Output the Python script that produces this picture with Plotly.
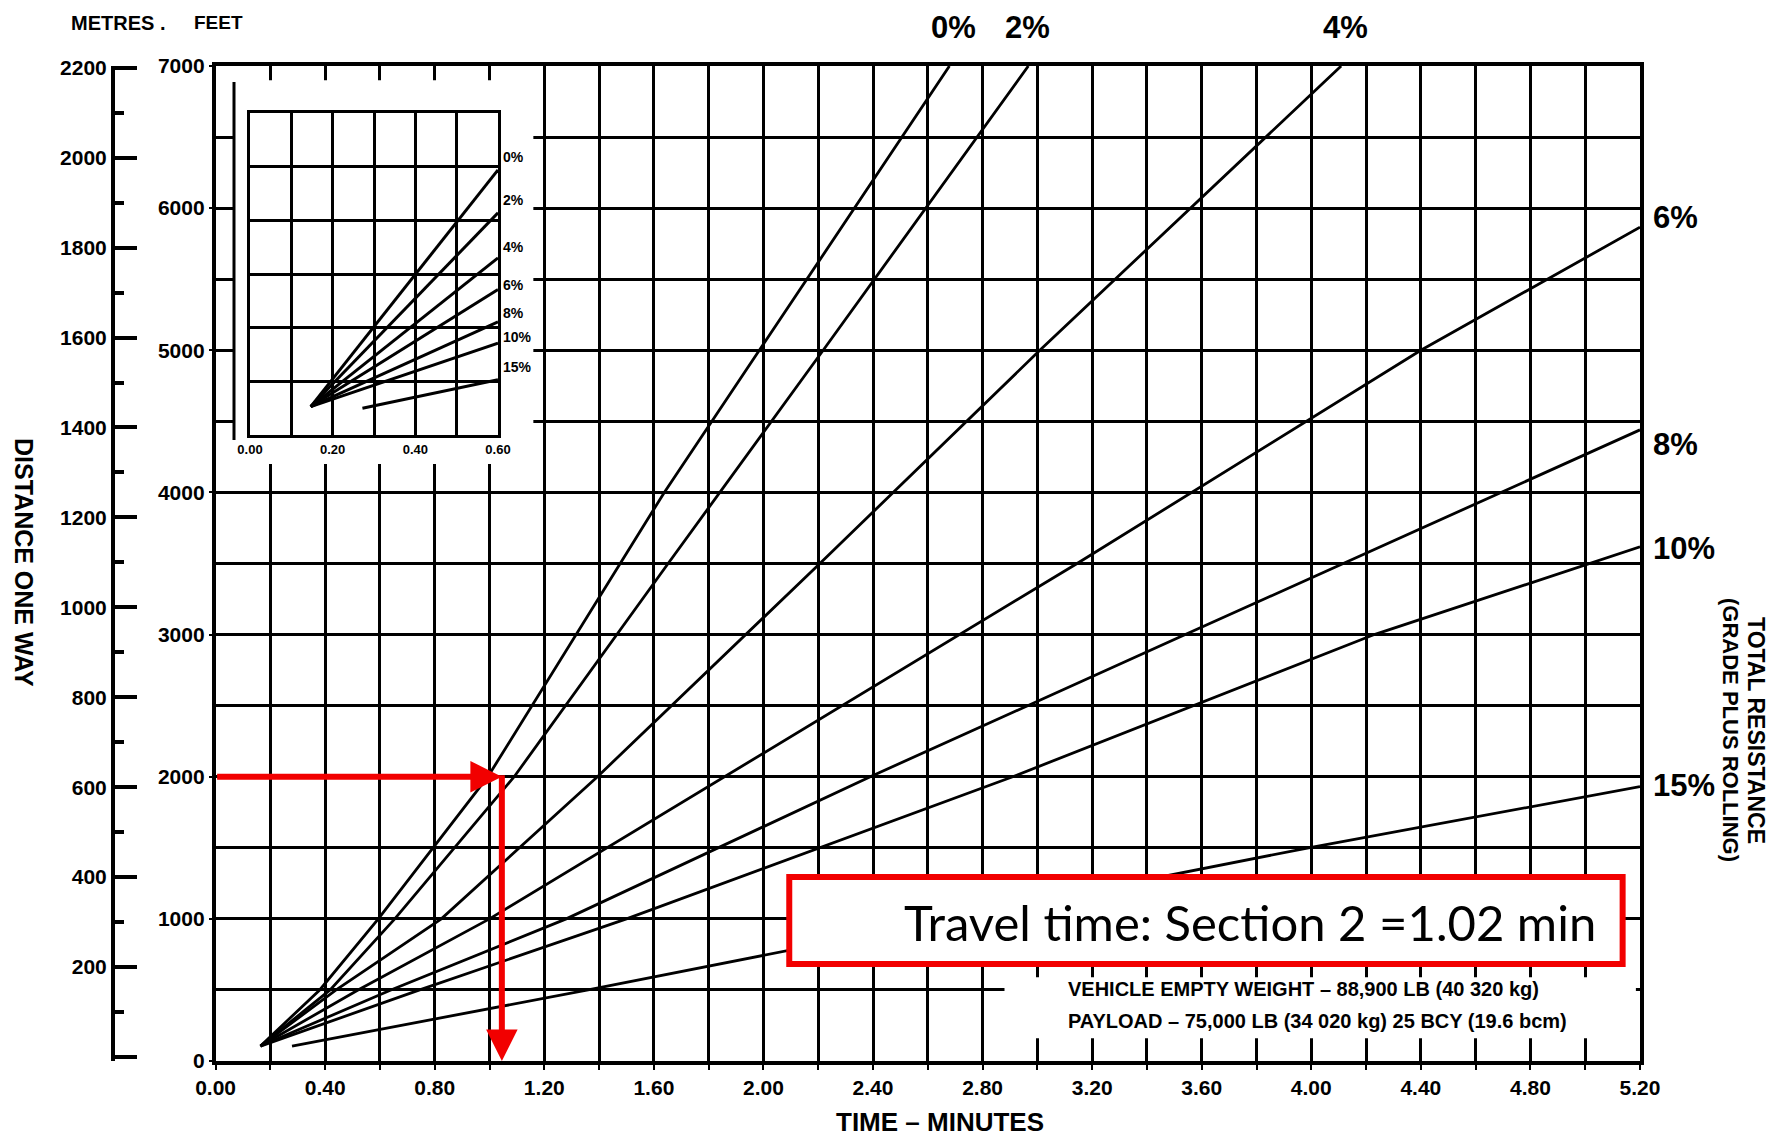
import plotly.graph_objects as go

# ---------------- data ----------------
grades = ["0%", "2%", "4%", "6%", "8%", "10%", "15%"]

t_0 = [0.164, 0.38, 0.594, 0.994, 1.638, 2.679]
d_0 = [105, 500, 1000, 2000, 4000, 7000]
t_2 = [0.164, 0.418, 0.654, 1.09, 1.652, 2.218, 2.967]
d_2 = [105, 500, 1000, 2000, 3500, 5000, 7000]
t_4 = [0.164, 0.44, 0.824, 1.394, 2.206, 3.009, 4.109]
d_4 = [105, 500, 1000, 2000, 3500, 5000, 7000]
t_6 = [0.164, 0.52, 1.0, 1.86, 3.145, 4.4, 5.2]
d_6 = [105, 500, 1000, 2000, 3500, 5000, 5866]
t_8 = [0.164, 0.64, 1.28, 2.39, 3.54, 4.69, 5.2]
d_8 = [105, 500, 1000, 2000, 3000, 4000, 4440]
t_10 = [0.164, 0.745, 1.5, 2.91, 4.23, 5.2]
d_10 = [105, 500, 1000, 2000, 3000, 3617]
t_15 = [0.279, 1.36, 3.99, 5.2]
d_15 = [105, 500, 1500, 1930]

series_t = [t_0, t_2, t_4, t_6, t_8, t_10, t_15]
series_d = [d_0, d_2, d_4, d_6, d_8, d_10, d_15]

# label positions of the grade names (top row and right column)
top_labels = ["0%", "2%", "4%"]
top_label_t = [2.693, 2.963, 4.125]
right_labels = ["6%", "8%", "10%", "15%"]
right_label_d = [5931, 4334, 3609, 1935]

# inset (short-distance detail), grid units
inset_start_t = [0.147, 0.147, 0.147, 0.147, 0.147, 0.147, 0.272]
inset_start_d = [0.53, 0.53, 0.53, 0.53, 0.53, 0.53, 0.50]
inset_end_t = [0.6, 0.6, 0.6, 0.6, 0.6, 0.6, 0.6]
inset_end_d = [4.94, 4.14, 3.30, 2.71, 2.11, 1.71, 1.03]
inset_label_d = [5.18, 4.38, 3.50, 2.80, 2.27, 1.83, 1.27]

x_ticks = [0.0, 0.4, 0.8, 1.2, 1.6, 2.0, 2.4, 2.8, 3.2, 3.6, 4.0, 4.4, 4.8, 5.2]
x_ticktext = ["0.00", "0.40", "0.80", "1.20", "1.60", "2.00", "2.40", "2.80",
              "3.20", "3.60", "4.00", "4.40", "4.80", "5.20"]
feet_ticks = [0, 1000, 2000, 3000, 4000, 5000, 6000, 7000]
metre_ticks = [0, 200, 400, 600, 800, 1000, 1200, 1400, 1600, 1800, 2000, 2200]
metre_minor = [100, 300, 500, 700, 900, 1100, 1300, 1500, 1700, 1900, 2100]

# example reading (red arrows)
example_distance_ft = 2000
example_time_min = 1.045
example_arrow_tip = 1.045
result_text = "Travel time: Section 2 =1.02 min"
note_lines = ["VEHICLE EMPTY WEIGHT – 88,900 LB (40 320 kg)",
              "PAYLOAD – 75,000 LB (34 020 kg) 25 BCY (19.6 bcm)"]

# ---------------- geometry / styling ----------------
OFF = 8                     # page body margin of the html page
PAGE_W, PAGE_H = 1779, 1137
W, H = PAGE_W - OFF, PAGE_H - OFF
PLOT_L, PLOT_R, PLOT_T, PLOT_B = 60, 1640, 66, 1061   # page pixels
ML, MT = PLOT_L - OFF, PLOT_T - OFF
MR, MB = W - (PLOT_R - OFF), H - (PLOT_B - OFF)
plot_w = W - ML - MR
plot_h = H - MT - MB


def px(xp):
    return (xp - OFF - ML) / plot_w


def py(yp):
    return (H - MB - (yp - OFF)) / plot_h


def t_at(xp):
    return (xp - 215.6) / 273.8


def d_at(yp):
    return (1061 - yp) / 0.14214


FONT = "Liberation Sans, Arial, sans-serif"
RED = "#f20000"
BLACK = "#000000"
GW = 2.6


def bfont(size):
    return dict(family=FONT, size=size, color=BLACK, weight="bold")


fig = go.Figure()

for name, t, d in zip(grades, series_t, series_d):
    fig.add_trace(go.Scatter(x=t, y=d, mode="lines", name=name,
                             line=dict(color=BLACK, width=2.8),
                             hoverinfo="skip", showlegend=False))

fig.add_trace(go.Scatter(x=[None], y=[None], yaxis="y2", showlegend=False,
                         hoverinfo="skip"))

for name, ts, ds, te, de in zip(grades, inset_start_t, inset_start_d,
                                inset_end_t, inset_end_d):
    fig.add_trace(go.Scatter(x=[ts, te], y=[ds, de], mode="lines",
                             xaxis="x2", yaxis="y3",
                             line=dict(color=BLACK, width=3),
                             hoverinfo="skip", showlegend=False))

common = dict(showline=True, linecolor=BLACK, mirror=True, zeroline=False,
              gridcolor=BLACK, automargin=False)

fig.update_layout(
    width=W, height=H,
    margin=dict(l=ML, r=MR, t=MT, b=MB, pad=0, autoexpand=False),
    paper_bgcolor="white", plot_bgcolor="white",
    showlegend=False,
    xaxis=dict(domain=[px(215.6), 1.0], range=[0, 5.2], tickvals=x_ticks,
               ticktext=x_ticktext, ticks="outside", ticklen=5, tickwidth=2,
               tickcolor=BLACK, showgrid=True, gridwidth=GW, linewidth=3.5,
               tickfont=bfont(21),
               minor=dict(dtick=0.2, tick0=0, showgrid=True, gridcolor=BLACK,
                          gridwidth=GW, ticks="outside", ticklen=5,
                          tickwidth=2, tickcolor=BLACK),
               **common),
    yaxis=dict(domain=[0, 1], range=[0, 7000], tickvals=feet_ticks,
               ticks="outside", ticklen=3, tickwidth=2, tickcolor=BLACK,
               showgrid=True, gridwidth=GW, linewidth=3.5, tickfont=bfont(21),
               minor=dict(dtick=500, tick0=0, showgrid=True, gridcolor=BLACK,
                          gridwidth=GW),
               **common),
    yaxis2=dict(overlaying="y", anchor="free", position=px(113), side="left",
                range=[-9, 2204], tickvals=metre_ticks,
                ticktext=[""] + [str(v) for v in metre_ticks[1:]],
                ticks="inside", ticklen=22, tickwidth=4, tickcolor=BLACK,
                showline=True, linewidth=4, linecolor=BLACK, automargin=False,
                showgrid=False, zeroline=False, tickfont=bfont(21),
                minor=dict(tickvals=metre_minor, ticks="inside", ticklen=9,
                           tickwidth=4, tickcolor=BLACK, showgrid=False)),
    xaxis2=dict(domain=[px(250), px(498)], anchor="y3", range=[0, 0.6],
                tickvals=[0, 0.2, 0.4, 0.6],
                ticktext=["0.00", "0.20", "0.40", "0.60"], ticks="",
                tickfont=bfont(13), showgrid=True, gridwidth=3, linewidth=3,
                minor=dict(dtick=0.1, tick0=0, showgrid=True,
                           gridcolor=BLACK, gridwidth=3),
                **common),
    yaxis3=dict(domain=[py(435), py(113)], anchor="x2", range=[0, 6], dtick=1,
                showticklabels=False, ticks="", showgrid=True, gridwidth=3,
                linewidth=3, **common),
)

shapes = []
# blank the main grid behind the inset
shapes.append(dict(type="rect", xref="x", yref="y", x0=0.068, x1=1.16,
                   y0=4200, y1=6900, fillcolor="white", line=dict(width=0),
                   layer="between"))
# blank grid under the vehicle notes
shapes.append(dict(type="rect", xref="x", yref="y", x0=2.88, x1=5.185,
                   y0=160, y1=590, fillcolor="white", line=dict(width=0),
                   layer="between"))
# inset outer axis line
shapes.append(dict(type="line", xref="paper", yref="paper",
                   x0=px(234), x1=px(234), y0=py(440), y1=py(82),
                   line=dict(color=BLACK, width=3)))
# result box
shapes.append(dict(type="rect", xref="x", yref="y", x0=t_at(789),
                   x1=t_at(1622), y0=d_at(964), y1=d_at(877),
                   fillcolor="white", line=dict(color=RED, width=6),
                   layer="above"))
fig.update_layout(shapes=shapes)

ann = []
ann.append(dict(x=example_arrow_tip, y=example_distance_ft, ax=0,
                ay=example_distance_ft, xref="x", yref="y", axref="x",
                ayref="y", showarrow=True, arrowhead=2, arrowsize=1.05,
                arrowwidth=6, arrowcolor=RED, text=""))
ann.append(dict(x=example_time_min, y=0, ax=example_time_min,
                ay=example_distance_ft + 20, xref="x", yref="y", axref="x",
                ayref="y", showarrow=True, arrowhead=2, arrowsize=1.05,
                arrowwidth=6, arrowcolor=RED, text=""))
ann.append(dict(x=t_at(1597), y=d_at(922), xref="x", yref="y",
                xanchor="right", yanchor="middle", showarrow=False,
                text=result_text,
                font=dict(family="Lato, Carlito, Open Sans, sans-serif",
                          size=49, color=BLACK)))
for line_txt, yp in zip(note_lines, [989, 1021]):
    ann.append(dict(x=t_at(1066), y=d_at(yp), xref="x", yref="y",
                    xanchor="left", yanchor="middle", showarrow=False,
                    text=line_txt, font=bfont(20)))
for lab, tx in zip(top_labels, top_label_t):
    ann.append(dict(x=tx, y=py(27), xref="x", yref="paper",
                    xanchor="center", yanchor="middle", showarrow=False,
                    text=lab, font=bfont(31)))
for lab, dy in zip(right_labels, right_label_d):
    ann.append(dict(x=5.2, y=dy, xref="x", yref="y", xanchor="left",
                    yanchor="middle", xshift=11, showarrow=False,
                    text=lab, font=bfont(31)))
for lab, dy in zip(grades, inset_label_d):
    ann.append(dict(x=0.6, y=dy, xref="x2", yref="y3", xanchor="left",
                    yanchor="middle", xshift=3, showarrow=False,
                    text=lab, font=bfont(14)))
ann.append(dict(x=px(118), y=py(23), xref="paper", yref="paper",
                xanchor="center", yanchor="middle", showarrow=False,
                text="METRES .", font=bfont(20)))
ann.append(dict(x=px(218), y=py(23), xref="paper", yref="paper",
                xanchor="center", yanchor="middle", showarrow=False,
                text="FEET", font=bfont(19)))
ann.append(dict(x=px(940), y=py(1122), xref="paper", yref="paper",
                xanchor="center", yanchor="middle", showarrow=False,
                text="TIME – MINUTES", font=bfont(26)))
ann.append(dict(x=px(24), y=py(562), xref="paper", yref="paper",
                xanchor="center", yanchor="middle", showarrow=False,
                textangle=90, text="DISTANCE ONE WAY", font=bfont(25)))
ann.append(dict(x=px(1756), y=py(730), xref="paper", yref="paper",
                xanchor="center", yanchor="middle", showarrow=False,
                textangle=90, text="TOTAL RESISTANCE", font=bfont(23)))
ann.append(dict(x=px(1731), y=py(730), xref="paper", yref="paper",
                xanchor="center", yanchor="middle", showarrow=False,
                textangle=90, text="(GRADE PLUS ROLLING)", font=bfont(22)))
fig.update_layout(annotations=ann)

fig.write_html("out.html")
